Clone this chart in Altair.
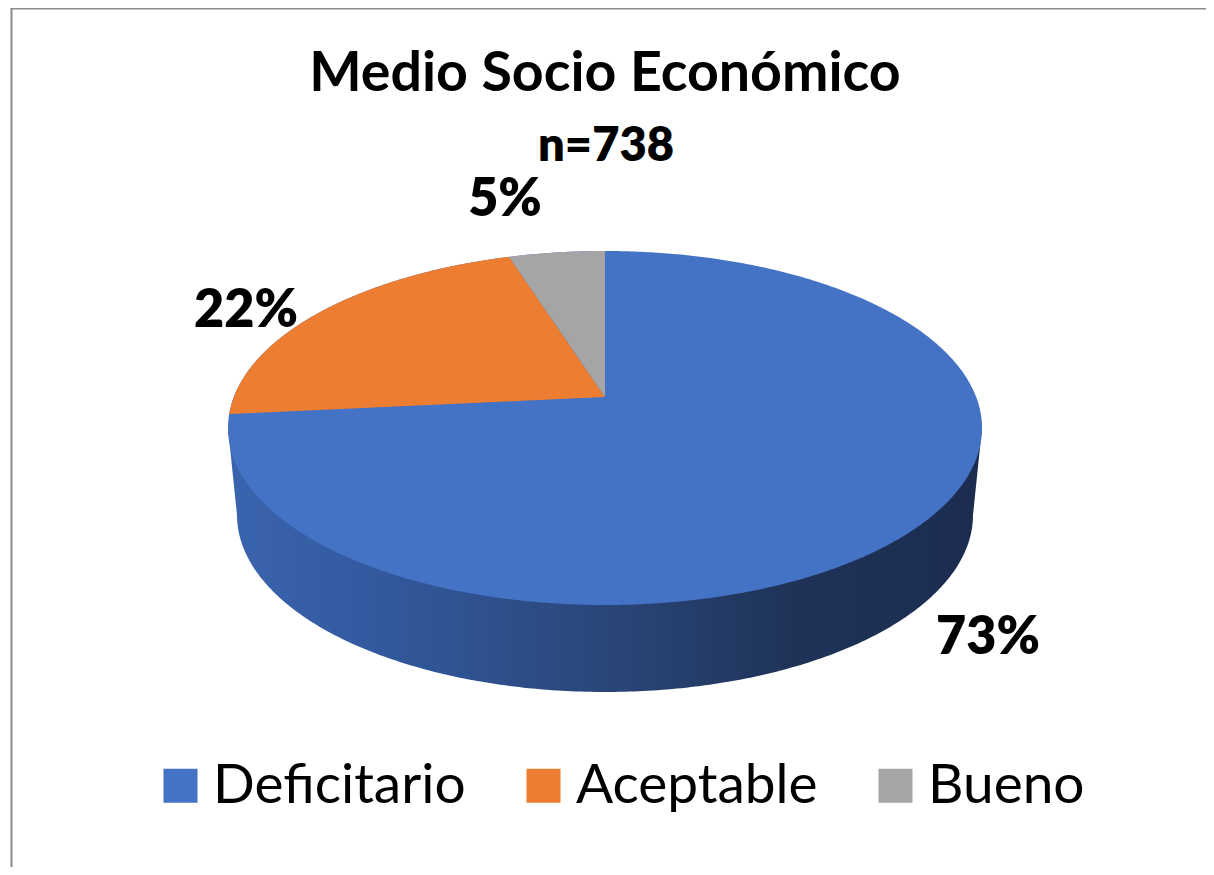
import altair as alt
import numpy as np
import pandas as pd

categories = ["Deficitario", "Aceptable", "Bueno"]
counts = [542, 160, 36]          # n = 738
colors = ["#4472c4", "#ed7d31", "#a5a5a5"]
title_text = "Medio Socio Económico"
subtitle_text = "n=738"

# pie geometry (view units are page pixels)
CX, CY, RX, RY = 605.0, 428.0, 377.0, 177.0
BX, BCY = 368.0, 515.0
A = (CY - 397.0) / RY            # perspective shift of the pie's apex

W, H = 1198, 859


def project(theta):
    """Clockwise angle from 12 o'clock on the real disc -> page position."""
    u, v = np.sin(theta), np.cos(theta)
    d = 1 + A * v
    return CX + RX * u * np.sqrt(1 - A * A) / d, CY - RY * (v + A) / d


total = sum(counts)
share = np.array(counts) / total
pct = [f"{round(s * 100)}%" for s in share]
x_apex, y_apex = project(0.0)[0], CY - RY * A
# boundaries going counter-clockwise from 12 o'clock
x_b5, y_b5 = project(-2 * np.pi * share[2])
x_b27, y_b27 = project(-2 * np.pi * (share[2] + share[1]))


def ray(x, xe, ye):
    return y_apex + (ye - y_apex) * (x - x_apex) / (xe - x_apex)


def upper(x):
    return CY - RY * np.sqrt(np.clip(1 - ((x - CX) / RX) ** 2, 0, 1))


ts = np.linspace(0, np.pi, 361)
xs_full = CX - RX * np.cos(ts)
top_df = pd.DataFrame({"cat": categories[0], "x": xs_full,
                       "y": CY - RY * np.sin(ts), "y2": CY + RY * np.sin(ts)})

xs_o = np.unique(np.concatenate([np.linspace(x_b27, x_b5, 240), np.linspace(x_b5, x_apex, 40)]))
o_top = np.where(xs_o <= x_b5, upper(xs_o), ray(xs_o, x_b5, y_b5))
o_df = pd.DataFrame({"cat": categories[1], "x": xs_o, "y": o_top, "y2": ray(xs_o, x_b27, y_b27)})

xs_g = np.linspace(x_b5, x_apex, 60)
g_df = pd.DataFrame({"cat": categories[2], "x": xs_g, "y": upper(xs_g), "y2": ray(xs_g, x_b5, y_b5)})

tb = np.linspace(0.0, np.pi, 241)
rim_x = np.concatenate([[CX - RX], CX - BX * np.cos(tb), [CX + RX]])
rim_y = np.concatenate([[CY], BCY + RY * np.sin(tb), [CY]])
rim_df = pd.DataFrame({"x": rim_x, "y": rim_y, "y2": CY})

xs = alt.Scale(domain=[8, 8 + W], range=[0, W], nice=False, zero=False)
ys = alt.Scale(domain=[8, 8 + H], range=[0, H], nice=False, zero=False)
X = alt.X("x:Q", scale=xs, axis=None)
Y = alt.Y("y:Q", scale=ys, axis=None)
Y2 = alt.Y2("y2:Q")

legend = alt.Legend(
    title=None, orient="none", legendX=145, legendY=750, direction="horizontal",
    columns=3, symbolType="square", symbolSize=1156, symbolStrokeWidth=0,
    labelFontSize=55, labelFont="Lato", labelColor="#000000", labelLimit=400,
    columnPadding=50, symbolOffset=0, labelOffset=5, padding=0,
)
color = alt.Color("cat:N", scale=alt.Scale(domain=categories, range=colors), legend=legend)

rim = alt.Chart(rim_df).mark_area(
    interpolate="linear",
    color=alt.Gradient(
        gradient="linear", x1=0, x2=1, y1=0, y2=0,
        stops=[
            alt.GradientStop(offset=0.0, color="#3a64ae"),
            alt.GradientStop(offset=0.2, color="#32599e"),
            alt.GradientStop(offset=0.5, color="#2a4679"),
            alt.GradientStop(offset=0.75, color="#1f3358"),
            alt.GradientStop(offset=1.0, color="#1b2c4f"),
        ],
    ),
).encode(x=X, y=Y, y2=Y2)


def face(df):
    return alt.Chart(df).mark_area(interpolate="linear").encode(x=X, y=Y, y2=Y2, color=color)


def text(t, x, y, size, weight):
    return alt.Chart(pd.DataFrame({"t": [t], "x": [x], "y": [y]})).mark_text(
        font="Lato", fontSize=size, fontWeight=weight, color="#000000",
        align="center", baseline="alphabetic",
    ).encode(x=X, y=Y, text="t:N")


left_border = alt.Chart(pd.DataFrame({"x": [11.5], "y": [8], "y2": [8 + H]})).mark_rule(
    color="#8a8a8a", strokeWidth=2).encode(x=X, y=Y, y2=Y2)
top_border = alt.Chart(pd.DataFrame({"x": [11], "x2": [8 + W], "y": [8.5]})).mark_rule(
    color="#8a8a8a", strokeWidth=2).encode(x=X, x2="x2:Q", y=Y)

chart = alt.layer(
    left_border, top_border, rim, face(top_df), face(o_df), face(g_df),
    text(title_text, 605, 91, 55.5, "bold"),
    text(subtitle_text, 606, 161, 47, 800),
    text(pct[2], 505, 216, 52, 800),
    text(pct[1], 246, 327, 52, 800),
    text(pct[0], 988, 654, 52, 800),
).properties(width=W, height=H, padding=0,
             autosize=alt.AutoSizeParams(type="none")).configure_view(stroke=None)

chart.save("out.html", embed_options={"renderer": "svg", "actions": False})
